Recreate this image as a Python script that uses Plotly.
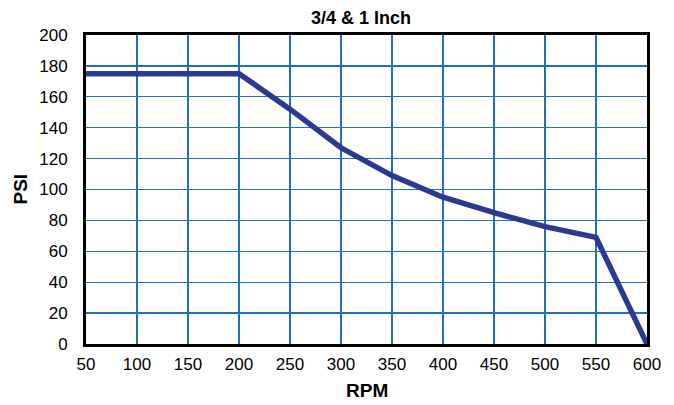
import plotly.graph_objects as go

rpm = [50, 100, 150, 200, 250, 300, 350, 400, 450, 500, 550, 600]
psi = [175, 175, 175, 175, 152, 127, 109, 95, 85, 76, 69, 0]
x_ticks = [50, 100, 150, 200, 250, 300, 350, 400, 450, 500, 550, 600]
y_ticks = [0, 20, 40, 60, 80, 100, 120, 140, 160, 180, 200]

fig = go.Figure()
fig.add_trace(go.Scatter(x=rpm, y=psi, mode="lines",
                         line=dict(color="#2b3990", width=5.5),
                         showlegend=False, hoverinfo="skip", cliponaxis=False))

font = "Liberation Sans, Arial, Helvetica, sans-serif"
axis_common = dict(showgrid=True, gridcolor="#1f6fc0", gridwidth=1.3,
                   showline=True, linecolor="black", linewidth=3, mirror=True,
                   ticks="", zeroline=False, automargin=False,
                   tickfont=dict(family=font, size=17, color="black"))

fig.update_xaxes(range=[50, 600], tickvals=x_ticks, ticklabelstandoff=3, **axis_common)
fig.update_yaxes(range=[0, 200], tickvals=y_ticks, ticklabelstandoff=12, **axis_common)

fig.update_layout(
    width=674, height=405,
    margin=dict(l=86, r=27, t=35, b=61),
    paper_bgcolor="white", plot_bgcolor="white",
    title=dict(text="<b>3/4 & 1 Inch</b>", x=(361 - 86) / 561, xanchor="center", xref="paper",
               y=1 - 18 / 405, yanchor="middle",
               font=dict(family=font, size=18, color="black")),
    annotations=[
        dict(text="<b>RPM</b>", xref="paper", yref="paper", x=0.5, y=-(390 - 344) / 309,
             xanchor="center", yanchor="middle", showarrow=False,
             font=dict(family=font, size=19, color="black")),
        dict(text="<b>PSI</b>", xref="paper", yref="paper", x=-(86 - 20) / 561, y=0.5,
             xanchor="center", yanchor="middle", showarrow=False, textangle=-90,
             font=dict(family=font, size=19, color="black")),
    ],
)

fig.write_html("out.html", config={"displayModeBar": False, "staticPlot": True},
               post_script="document.body.style.margin='0';document.body.style.overflow='hidden';")
